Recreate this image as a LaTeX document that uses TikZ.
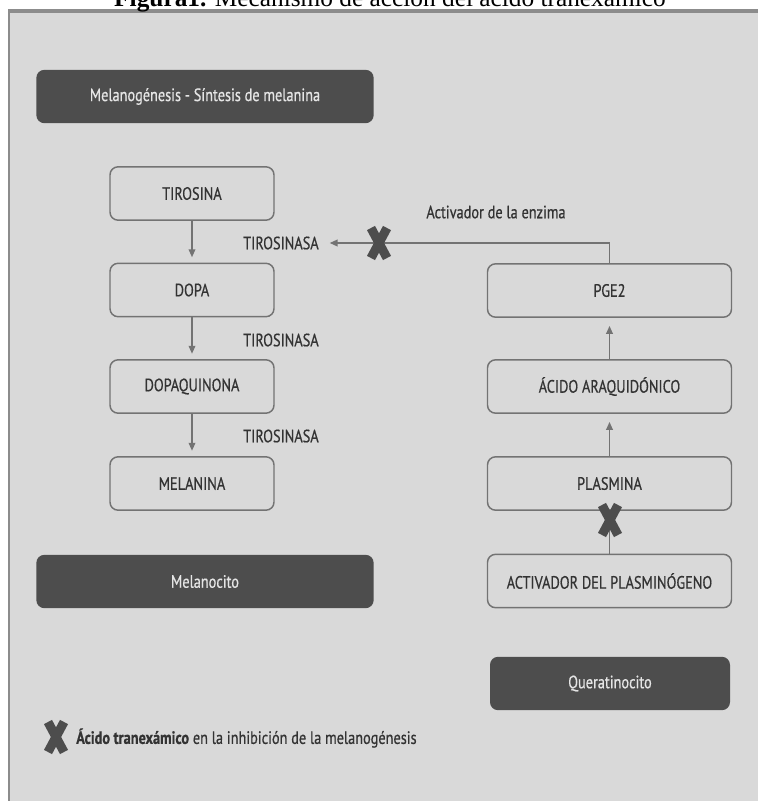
\documentclass[tikz,border=0pt]{standalone}
\usepackage{fontspec}
\setmainfont[FakeStretch=0.8,FakeBold=0.6]{PT Sans}
\newfontfamily\figcaption{Liberation Serif}
\usetikzlibrary{arrows.meta}

\definecolor{panelgray}{HTML}{D9D9D9}
\definecolor{darkbox}{HTML}{4D4D4D}
\definecolor{edgegray}{HTML}{737373}
\definecolor{inkgray}{HTML}{333333}
\definecolor{framegray}{HTML}{8C8C8C}

\tikzset{
  boxfont/.style={font=\fontsize{13.4}{15}\selectfont},
  stepbox/.style={boxfont, draw=edgegray, line width=1.1pt, rounded corners=6pt,
    fill=panelgray, minimum height=40pt, text=inkgray},
  leftbox/.style={stepbox, minimum width=123pt},
  rightbox/.style={stepbox, minimum width=183pt},
  titlebox/.style={boxfont, fill=darkbox, rounded corners=6pt, minimum height=40pt,
    text=white!90!black},
  enzyme/.style={boxfont, text=inkgray, anchor=west, inner sep=0pt},
  edgeline/.style={draw=edgegray, line width=1.2pt},
  conn/.style={edgeline, -{Triangle[length=6pt,width=5pt]}},
  bloqueo/.pic={\draw[darkbox, line width=6.8pt] (-8,-15) -- (8,15) (-8,15) -- (8,-15);}
}

\begin{document}
\begin{tikzpicture}[x=0.75pt,y=-0.75pt]
  \useasboundingbox (0,0) rectangle (758,801);
  \clip (0,0) rectangle (758,801);

  % panel
  \fill[white] (0,0) rectangle (758,801);
  \fill[panelgray] (9,11) rectangle (758,801);
  \draw[framegray, line width=1.5pt] (9,801) -- (9,11);
  \draw[framegray, line width=2.5pt] (8,11) -- (758,11);

  % caption, cut off at the top
  \node[font=\figcaption\fontsize{19}{22}\selectfont, anchor=base] (caption) at (390,6)
    {\textbf{Figura1.} Mecanismo de acción del ácido tranexámico};

  % melanocito column
  \node[titlebox, minimum width=253pt] (melanogenesis) at (205,96.5) {Melanogénesis - Síntesis de melanina};
  \node[leftbox] (tirosina) at (192,193.5) {TIROSINA};
  \node[leftbox] (dopa) at (192,290) {DOPA};
  \node[leftbox] (dopaquinona) at (192,386.5) {DOPAQUINONA};
  \node[leftbox] (melanina) at (192,483.5) {MELANINA};
  \node[titlebox, minimum width=253pt] (melanocito) at (205,581.5) {Melanocito};

  \node[enzyme] (enz1) at (243,243) {TIROSINASA};
  \node[enzyme] (enz2) at (243,340) {TIROSINASA};
  \node[enzyme] (enz3) at (243,436) {TIROSINASA};

  \draw[conn, shorten >=4pt] (tirosina) -- (dopa);
  \draw[conn, shorten >=4pt] (dopa) -- (dopaquinona);
  \draw[conn, shorten >=4pt] (dopaquinona) -- (melanina);

  % queratinocito column
  \node[rightbox] (pge) at (609.5,290.5) {PGE2};
  \node[rightbox] (araquidonico) at (609.5,386.5) {ÁCIDO ARAQUIDÓNICO};
  \node[rightbox] (plasmina) at (609.5,483.5) {PLASMINA};
  \node[rightbox] (activplasm) at (609.5,581) {ACTIVADOR DEL PLASMINÓGENO};
  \node[titlebox, minimum width=180pt] (queratinocito) at (610,683.5) {Queratinocito};

  \node[boxfont, text=inkgray] (activenz) at (496,212) {Activador de la enzima};

  \draw[conn, shorten >=8pt] (pge.north) |- (enz1.east);
  \draw[conn, shorten >=6pt] (araquidonico) -- (pge);
  \draw[conn, shorten >=6pt] (plasmina) -- (araquidonico);
  \draw[edgeline] (activplasm) -- (plasmina);

  \pic at (379,243) {bloqueo};
  \pic at (610,520) {bloqueo};

  % legend
  \pic at (56,737) {bloqueo};
  \node[enzyme] (leyenda) at (76,738)
    {\textbf{Ácido tranexámico} en la inhibición de la melanogénesis};
\end{tikzpicture}
\end{document}
